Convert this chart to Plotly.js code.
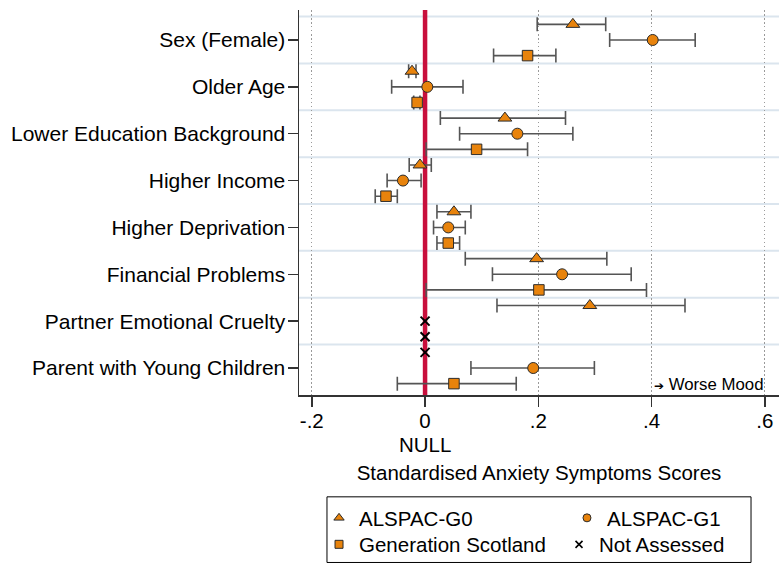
<!DOCTYPE html>
<html>
<head>
<meta charset="utf-8">
<script src="https://cdn.plot.ly/plotly-3.0.1.min.js"></script>
<style>html,body{margin:0;padding:0;background:#fff;}#chart{width:780px;height:564px;}</style>
</head>
<body>
<div id="chart"></div>
<script>
// ---------- data ----------
const categories = ["Sex (Female)", "Older Age", "Lower Education Background", "Higher Income",
  "Higher Deprivation", "Financial Problems", "Partner Emotional Cruelty", "Parent with Young Children"];

const g0Est = [0.261, -0.023, 0.141, -0.009, 0.051, 0.197, 0.291, null];
const g0Lo  = [0.198, -0.029, 0.027, -0.028, 0.021, 0.071, 0.127, null];
const g0Hi  = [0.319, -0.016, 0.248,  0.011, 0.081, 0.321, 0.459, null];

const g1Est = [0.402,  0.004, 0.163, -0.039, 0.041, 0.242, null, 0.191];
const g1Lo  = [0.326, -0.059, 0.061, -0.067, 0.015, 0.119, null, 0.081];
const g1Hi  = [0.477,  0.067, 0.261, -0.007, 0.071, 0.364, null, 0.299];

const gsEst = [0.181, -0.014, 0.091, -0.069, 0.041, 0.201, null,  0.051];
const gsLo  = [0.121, -0.020, 0.002, -0.088, 0.021, 0.002, null, -0.049];
const gsHi  = [0.231, -0.009, 0.181, -0.049, 0.061, 0.391, null,  0.161];

const xTickVals = [-0.2, 0, 0.2, 0.4, 0.6];
const xTickText = ["-.2", "0", ".2", ".4", ".6"];

const seriesNames = ["ALSPAC-G0", "ALSPAC-G1", "Generation Scotland", "Not Assessed"];
const nullValue = 0;

// ---------- styling ----------
const FONT = "Arial, 'Liberation Sans', Helvetica, sans-serif";
const FS = 20.5;
const ORANGE = "#e8830c";
const OUTLINE = "#2b2b2b";
const ERR = "#555555";
const YRANGE = [7.576, -0.64];

const series = [
  {name: seriesNames[0], est: g0Est, lo: g0Lo, hi: g0Hi, off: -1/3, symbol: "triangle-up", size: 12},
  {name: seriesNames[1], est: g1Est, lo: g1Lo, hi: g1Hi, off: 0,    symbol: "circle",      size: 11},
  {name: seriesNames[2], est: gsEst, lo: gsLo, hi: gsHi, off: 1/3,  symbol: "square",      size: 10.5}
];

const traces = [];
// null reference line (drawn first so markers sit on top of it)
traces.push({type: "scatter", mode: "lines", x: [nullValue, nullValue], y: YRANGE,
  line: {color: "#c80f3c", width: 4.5}, showlegend: false, hoverinfo: "skip"});

const naX = [], naY = [];
series.forEach(s => {
  const xs = [], ys = [], plus = [], minus = [];
  s.est.forEach((v, i) => {
    if (v === null) { naX.push(nullValue); naY.push(i + s.off); return; }
    xs.push(v); ys.push(i + s.off);
    plus.push(s.hi[i] - v); minus.push(v - s.lo[i]);
  });
  traces.push({
    type: "scatter", mode: "markers", x: xs, y: ys, name: s.name, showlegend: false,
    marker: {symbol: s.symbol, size: s.size, color: ORANGE, line: {color: OUTLINE, width: 1}},
    error_x: {type: "data", symmetric: false, array: plus, arrayminus: minus,
              color: ERR, thickness: 1.6, width: 7},
    hoverinfo: "x+name"
  });
});
traces.push({
  type: "scatter", mode: "markers", x: naX, y: naY, name: seriesNames[3], showlegend: false,
  marker: {symbol: "x-thin", size: 9, color: "#000", line: {color: "#000", width: 2}},
  hoverinfo: "name"
});

// legend-only entries (one legend each, placed like the reference's 2x2 key)
const legendIds = ["legend", "legend2", "legend3", "legend4"];
const legendSyms = [
  {symbol: "triangle-up", size: 9, color: ORANGE, line: {color: OUTLINE, width: 1}},
  {symbol: "circle", size: 8, color: ORANGE, line: {color: OUTLINE, width: 1}},
  {symbol: "square", size: 8, color: ORANGE, line: {color: OUTLINE, width: 1}},
  {symbol: "x-thin", size: 7, color: "#000", line: {color: "#000", width: 1.6}}
];
seriesNames.forEach((n, k) => {
  traces.push({type: "scatter", mode: "markers", x: [null], y: [null], name: n,
    legend: legendIds[k], showlegend: true, marker: legendSyms[k], hoverinfo: "skip"});
});

// separators between category blocks
const shapes = [];
for (let i = 0; i < categories.length; i++) {
  shapes.push({type: "line", xref: "paper", x0: 0, x1: 1, yref: "y", y0: i - 0.5, y1: i - 0.5,
    line: {color: "#dbe5ee", width: 2}, layer: "between"});
}
// legend frame
shapes.push({type: "rect", xref: "paper", yref: "paper", x0: 0.0583, x1: 0.9417, y0: -0.435, y1: -0.2645,
  line: {color: "#000", width: 1}, fillcolor: "rgba(0,0,0,0)"});

const legendBase = {orientation: "h", xanchor: "left", yanchor: "middle", bgcolor: "rgba(0,0,0,0)",
  borderwidth: 0, font: {family: FONT, size: FS, color: "#000"}};

const layout = {
  width: 780, height: 564,
  margin: {l: 299, r: 1, t: 10, b: 169, autoexpand: false},
  paper_bgcolor: "#fff", plot_bgcolor: "#fff",
  font: {family: FONT, size: FS, color: "#000"},
  showlegend: true,
  xaxis: {
    range: [-0.2226, 0.625], tickmode: "array", tickvals: xTickVals, ticktext: xTickText,
    ticks: "outside", ticklen: 10, tickwidth: 1.5, tickcolor: "#333", ticklabelstandoff: -3,
    showline: true, linecolor: "#333", linewidth: 1.5, zeroline: false,
    showgrid: true, gridcolor: "#9a9a9a", gridwidth: 1, griddash: "1.5px,2.5px",
    tickfont: {family: FONT, size: FS, color: "#000"},
    title: {text: "Standardised Anxiety Symptoms Scores", standoff: 34, font: {family: FONT, size: FS, color: "#000"}}
  },
  yaxis: {
    range: YRANGE, tickmode: "array", tickvals: categories.map((c, i) => i), ticktext: categories,
    ticks: "outside", ticklen: 10, tickwidth: 1.5, tickcolor: "#333", ticklabelstandoff: -2,
    showline: true, linecolor: "#333", linewidth: 1.5, zeroline: false, showgrid: false,
    tickfont: {family: FONT, size: 21, color: "#000"}
  },
  legend:  Object.assign({}, legendBase, {x: 0.0417, y: -0.3195}),
  legend2: Object.assign({}, legendBase, {x: 0.5583, y: -0.3195}),
  legend3: Object.assign({}, legendBase, {x: 0.0417, y: -0.3883}),
  legend4: Object.assign({}, legendBase, {x: 0.5417, y: -0.3883}),
  shapes: shapes,
  annotations: [
    {text: "NULL", xref: "x", x: nullValue, yref: "paper", y: -0.128, yanchor: "middle", xanchor: "center",
     showarrow: false, font: {family: FONT, size: FS, color: "#000"}},
    {text: "<span style='font-size:12px'>➔</span> Worse Mood", xref: "x", x: 0.401, yref: "paper", y: 0.026,
     xanchor: "left", yanchor: "middle", showarrow: false, font: {family: FONT, size: 16.8, color: "#000"}}
  ]
};

Plotly.newPlot("chart", traces, layout, {displayModeBar: false, staticPlot: true});
</script>
</body>
</html>
